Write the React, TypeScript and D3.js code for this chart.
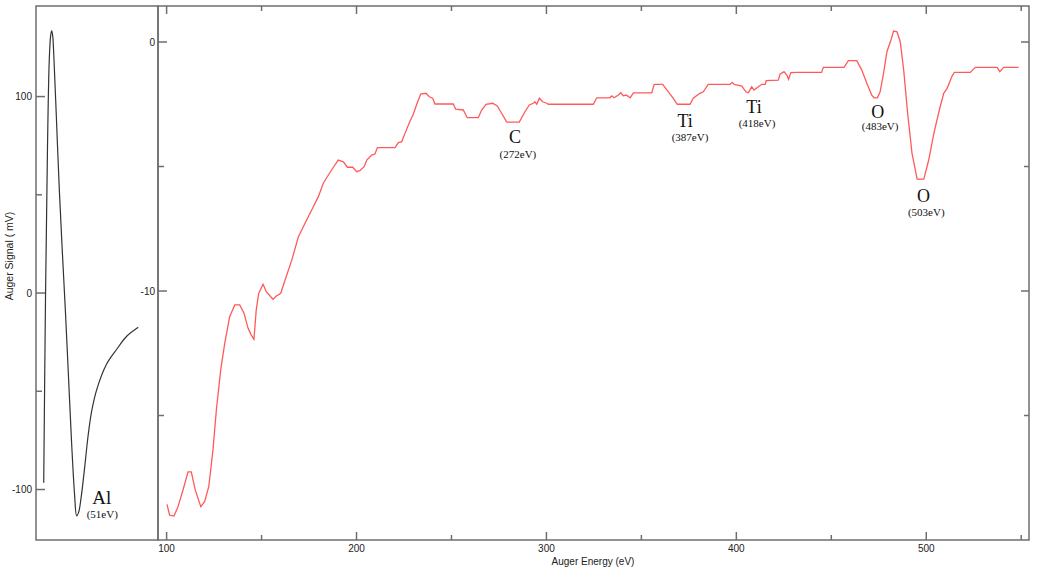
import React from 'react';
import * as d3 from 'd3';

// ---- Data ----
const alEnergy = [33.8, 34.7, 35.65, 36.5, 37.2, 37.7, 38.2, 38.8, 40.0, 41.5, 43.0, 44.5, 46.0, 47.5, 49.0, 50.0, 51.0, 52.2, 53.8, 55.7, 57.4, 59.9, 64.8, 69.7, 74.6, 80.3];
const alSignal = [-96.5, 0, 74, 118, 131, 133.5, 131, 120, 90, 52, 20, -10, -43, -76, -103, -113.4, -111.5, -104, -90, -72, -60, -49, -36, -28.6, -22, -17.4];

const spectrumEnergy = [
  100.2, 101.6, 103.9, 106.0, 108.6, 111.3, 113.0, 115.1, 118.0, 120.0, 122.2, 124.4, 126.2, 128.5, 130.6, 133.2, 135.9, 138.5,
  140.8, 142.9, 144.6, 146.0, 147.2, 148.5, 150.8, 152.5, 156.0, 157.8, 160.1, 162.2, 165.9, 169.4, 172.0, 174.6, 176.4, 179.9,
  182.5, 185.2, 187.8, 190.4, 193.1, 195.2, 198.0, 200.1, 201.8, 204.0, 205.4, 208.0, 209.7, 211.0, 220.3, 222.0, 223.8, 225.5,
  228.2, 229.9, 231.7, 233.8, 236.6, 238.3, 240.1, 241.3, 251.0, 252.2, 256.2, 258.3, 264.1, 265.9, 268.2, 271.7, 274.1, 276.4,
  279.1, 285.7, 288.7, 291.0, 293.1, 294.0, 294.9, 296.3, 298.0, 300.2, 301.0, 324.7, 326.5, 333.4, 334.4, 335.6, 337.9, 339.1,
  340.5, 342.0, 344.1, 345.8, 355.5, 356.7, 361.2, 364.2, 366.8, 368.9, 375.6, 377.3, 380.8, 382.6, 385.2, 396.7, 397.9, 398.9,
  402.9, 405.0, 406.3, 408.1, 409.3, 411.6, 413.4, 415.2, 415.7, 422.1, 423.0, 425.1, 426.6, 427.5, 428.7, 431.9, 444.9, 445.8,
  456.7, 459.0, 463.4, 466.0, 468.7, 471.3, 472.5, 474.3, 475.7, 477.5, 479.3, 481.4, 482.8, 484.6, 486.3, 488.1, 490.2, 492.5,
  495.2, 498.7, 501.3, 504.0, 507.1, 509.2, 511.0, 513.6, 514.8, 523.2, 525.8, 537.3, 538.7, 540.8, 548.7,
];
const spectrumSignal = [
  -18.57, -19.0, -19.04, -18.66, -18.0, -17.26, -17.26, -18.0, -18.66, -18.46, -17.86, -16.39, -14.78, -13.17, -12.1, -11.03, -10.56, -10.56,
  -10.9, -11.5, -11.77, -11.94, -10.76, -10.1, -9.73, -10.03, -10.33, -10.2, -10.09, -9.6, -8.76, -7.82, -7.42, -7.02, -6.75, -6.21,
  -5.67, -5.34, -5.03, -4.74, -4.81, -5.03, -5.03, -5.21, -5.17, -5.01, -4.74, -4.54, -4.5, -4.24, -4.24, -4.04, -4.0, -3.67,
  -3.17, -2.9, -2.5, -2.09, -2.06, -2.2, -2.26, -2.49, -2.49, -2.7, -2.73, -3.04, -3.04, -2.73, -2.5, -2.46, -2.57, -2.86,
  -3.22, -3.22, -2.8, -2.53, -2.46, -2.4, -2.5, -2.26, -2.4, -2.46, -2.5, -2.5, -2.24, -2.24, -2.16, -2.24, -2.13, -2.04,
  -2.16, -2.13, -2.24, -2.04, -2.04, -1.7, -1.7, -2.0, -2.26, -2.5, -2.5, -2.26, -2.06, -2.0, -1.7, -1.7, -1.62, -1.7,
  -1.77, -2.0, -2.04, -1.8, -1.93, -1.8, -1.7, -1.7, -1.55, -1.53, -1.29, -1.19, -1.33, -1.5, -1.23, -1.22, -1.22, -1.02,
  -1.02, -0.75, -0.75, -1.12, -1.66, -2.13, -2.24, -2.24, -2.0, -1.26, -0.39, 0.08, 0.44, 0.41, 0.01, -1.12, -2.86, -4.47,
  -5.51, -5.51, -4.74, -3.67, -2.66, -2.06, -1.86, -1.37, -1.22, -1.22, -1.02, -1.02, -1.19, -1.02, -1.02,
];

const energyMajorTicks = [100, 200, 300, 400, 500];
const energyMinorTicks = [150, 250, 350, 450, 550];
const signalMajorTicks = [0, -10];
const signalMinorTicks = [-5, -15];
const alMajorTicks = [100, 0, -100];
const alMinorTicks = [50, -50];

const peakElements = ['C', 'Ti', 'Ti', 'O', 'O'];
const peakEnergyLabels = ['(272eV)', '(387eV)', '(418eV)', '(483eV)', '(503eV)'];
const peakLabelEnergy = [283.5, 373.0, 409.3, 474.4, 498.6];
const peakLabelSignal = [-4.04, -3.41, -2.86, -3.05, -6.43];
const peakSubEnergy = [285.0, 375.6, 410.9, 475.7, 500.0];
const peakSubSignal = [-4.64, -3.98, -3.42, -3.55, -6.97];

const alElement = 'Al';
const alEnergyLabel = '(51eV)';
const alLabelPos = [62.3, -107.4];
const alSubPos = [62.6, -114.6];

const xTitle = 'Auger Energy (eV)';
const yTitle = 'Auger Signal ( mV)';

// ---- Layout ----
const W = 1041;
const H = 577;
const L = { x0: 36, x1: 158, y0: 6, y1: 540 };
const R = { x0: 158, x1: 1029, y0: 6, y1: 540 };

const AXIS = '#6e6e6e';
const TEXT = '#222';
const SANS = '"Liberation Sans", Arial, sans-serif';
const SERIF = '"Liberation Serif", "Times New Roman", serif';

export default function App() {
  const xAl = d3.scaleLinear().domain([30, 90]).range([L.x0, L.x1]);
  const yAl = d3.scaleLinear().domain([-125.7, 146.1]).range([L.y1, L.y0]);
  const xE = d3.scaleLinear().domain([95.47, 554.1]).range([R.x0, R.x1]);
  const yS = d3.scaleLinear().domain([-20, 1.446]).range([R.y1, R.y0]);

  const alLine = d3
    .line<number>()
    .x((_, i) => xAl(alEnergy[i]))
    .y((d) => yAl(d))
    .curve(d3.curveCatmullRom.alpha(0.5));
  const spLine = d3
    .line<number>()
    .x((_, i) => xE(spectrumEnergy[i]))
    .y((d) => yS(d));

  const major = 8;
  const minor = 5;

  return (
    <svg width={W} height={H} style={{ position: 'absolute', left: 0, top: 0, background: '#fff' }}>
      {/* frames */}
      <rect x={L.x0} y={L.y0} width={L.x1 - L.x0} height={L.y1 - L.y0} fill="none" stroke={AXIS} strokeWidth={1.5} />
      <rect x={R.x0} y={R.y0} width={R.x1 - R.x0} height={R.y1 - R.y0} fill="none" stroke={AXIS} strokeWidth={1.5} />

      {/* left panel ticks */}
      {alMajorTicks.map((t) => (
        <g key={'alM' + t}>
          <line x1={L.x0} x2={L.x0 + 9} y1={yAl(t)} y2={yAl(t)} stroke={AXIS} strokeWidth={1.5} />
          <text x={L.x0 - 4} y={yAl(t)} dy="0.35em" textAnchor="end" fontFamily={SANS} fontSize={10} fill={TEXT}>
            {t}
          </text>
        </g>
      ))}
      {alMinorTicks.map((t) => (
        <line key={'alm' + t} x1={L.x0} x2={L.x0 + 6} y1={yAl(t)} y2={yAl(t)} stroke={AXIS} strokeWidth={1.5} />
      ))}

      {/* right panel y ticks */}
      {signalMajorTicks.map((t) => (
        <g key={'sM' + t}>
          <line x1={R.x0} x2={R.x0 + major + 1} y1={yS(t)} y2={yS(t)} stroke={AXIS} strokeWidth={1.5} />
          <line x1={R.x1} x2={R.x1 - major} y1={yS(t)} y2={yS(t)} stroke={AXIS} strokeWidth={1.5} />
          <text x={R.x0 - 3} y={yS(t)} dy="0.35em" textAnchor="end" fontFamily={SANS} fontSize={10} fill={TEXT}>
            {t}
          </text>
        </g>
      ))}
      {signalMinorTicks.map((t) => (
        <g key={'sm' + t}>
          <line x1={R.x0} x2={R.x0 + minor + 1} y1={yS(t)} y2={yS(t)} stroke={AXIS} strokeWidth={1.5} />
          <line x1={R.x1} x2={R.x1 - minor} y1={yS(t)} y2={yS(t)} stroke={AXIS} strokeWidth={1.5} />
        </g>
      ))}

      {/* right panel x ticks */}
      {energyMajorTicks.map((t) => (
        <g key={'eM' + t}>
          <line x1={xE(t)} x2={xE(t)} y1={R.y1} y2={R.y1 - major} stroke={AXIS} strokeWidth={1.5} />
          <line x1={xE(t)} x2={xE(t)} y1={R.y0} y2={R.y0 + major} stroke={AXIS} strokeWidth={1.5} />
          <text x={xE(t)} y={552} textAnchor="middle" fontFamily={SANS} fontSize={10} fill={TEXT}>
            {t}
          </text>
        </g>
      ))}
      {energyMinorTicks.map((t) => (
        <g key={'em' + t}>
          <line x1={xE(t)} x2={xE(t)} y1={R.y1} y2={R.y1 - minor} stroke={AXIS} strokeWidth={1.5} />
          <line x1={xE(t)} x2={xE(t)} y1={R.y0} y2={R.y0 + minor} stroke={AXIS} strokeWidth={1.5} />
        </g>
      ))}

      {/* axis titles */}
      <text x={593} y={565} textAnchor="middle" fontFamily={SANS} fontSize={10} fill={TEXT}>
        {xTitle}
      </text>
      <text
        transform={`translate(13, 256) rotate(-90)`}
        textAnchor="middle"
        fontFamily={SANS}
        fontSize={10.5}
        fill={TEXT}
      >
        {yTitle}
      </text>

      {/* curves */}
      <path d={alLine(alSignal) || ''} fill="none" stroke="#333" strokeWidth={1.2} />
      <path d={spLine(spectrumSignal) || ''} fill="none" stroke="#ff5a5a" strokeWidth={1.3} />

      {/* Al annotation */}
      <text x={xAl(alLabelPos[0])} y={yAl(alLabelPos[1])} textAnchor="middle" fontFamily={SERIF} fontSize={19} fill="#111">
        {alElement}
      </text>
      <text x={xAl(alSubPos[0])} y={yAl(alSubPos[1])} textAnchor="middle" fontFamily={SERIF} fontSize={11} fill="#111">
        {alEnergyLabel}
      </text>

      {/* peak annotations */}
      {peakElements.map((el, i) => (
        <g key={'pk' + i}>
          <text
            x={xE(peakLabelEnergy[i])}
            y={yS(peakLabelSignal[i])}
            textAnchor="middle"
            fontFamily={SERIF}
            fontSize={18}
            fill="#111"
          >
            {el}
          </text>
          <text
            x={xE(peakSubEnergy[i])}
            y={yS(peakSubSignal[i])}
            textAnchor="middle"
            fontFamily={SERIF}
            fontSize={11}
            fill="#111"
          >
            {peakEnergyLabels[i]}
          </text>
        </g>
      ))}
    </svg>
  );
}
